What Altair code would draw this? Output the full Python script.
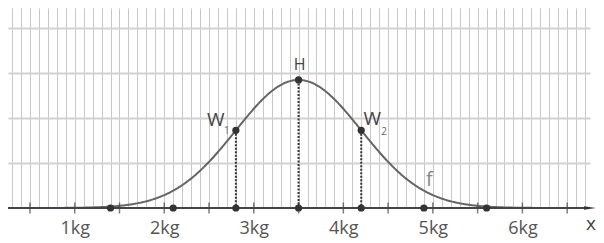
import altair as alt
import pandas as pd

# Normal distribution parameters
MU = 3.5
SIGMA = 0.7

# Scale extents (kg on x, density on y)
X_MIN, X_MAX = 0.255, 6.755
Y_MAX = 0.89

# Grid / tick positions
grid_x = [round(0.3 + 0.1 * i, 1) for i in range(65)]     # 0.3 ... 6.7
grid_y = [0.2, 0.4, 0.6, 0.8]
tick_x = [0.5, 1.0, 1.5, 2.0, 2.5, 3.0, 3.5, 4.0, 4.5, 5.0, 5.5, 6.0, 6.5]

# Marked points
axis_points = [1.4, 2.1, 2.8, 3.5, 4.2, 4.9, 5.6]
curve_points = [2.8, 3.5, 4.2]

# Axis line / arrow
axis_line = {"x": [X_MIN], "x2": [6.73]}
arrow_x = [6.755]
xlabel_x = [6.765]
f_label_x = [4.96]

FONT = "Open Sans"
dens = f"densityNormal(datum.x, {MU}, {SIGMA})"

xscale = alt.Scale(domain=[X_MIN, X_MAX], nice=False, zero=False)
yscale = alt.Scale(domain=[0, Y_MAX], nice=False, zero=True)

xaxis = alt.Axis(
    values=grid_x, grid=True, gridColor="#c9c9c9", gridWidth=1,
    ticks=False, domain=False, title=None,
    labelExpr="abs(datum.value - round(datum.value)) < 0.001 ? format(datum.value, 'd') + 'kg' : ''",
    labelFont=FONT, labelFontSize=18, labelColor="#555555",
    labelOverlap=False, labelFlush=False, labelPadding=11,
)
yaxis = alt.Axis(
    values=grid_y, grid=True, gridColor="#d2d2d2", gridWidth=2,
    ticks=False, domain=False, labels=False, title=None,
)

X = alt.X("x:Q", scale=xscale, axis=xaxis)
Y = alt.Y("y:Q", scale=yscale, axis=yaxis)
Y0 = alt.Y("y0:Q", scale=yscale, axis=yaxis)

curve = alt.Chart(alt.sequence(X_MIN, X_MAX + 0.001, 0.01, as_="x")).transform_calculate(
    y=dens
).mark_line(color="#666666", strokeWidth=2).encode(x=X, y=Y)

axis_rule = alt.Chart(pd.DataFrame(axis_line)).transform_calculate(y0="0").mark_rule(
    color="#444444", strokeWidth=2, clip=False
).encode(x=X, x2="x2:Q", y=Y0)

arrow = alt.Chart(pd.DataFrame({"x": arrow_x})).transform_calculate(y0="0").mark_point(
    shape="M-1,-0.3L1,0L-1,0.3Z", size=144, filled=True, color="#333333", opacity=1, clip=False
).encode(x=X, y=Y0)

x_label = alt.Chart(pd.DataFrame({"x": xlabel_x})).transform_calculate(y0="0").mark_text(
    text="x", font=FONT, fontSize=19, color="#444444", dy=16, clip=False
).encode(x=X, y=Y0)

ticks = alt.Chart(pd.DataFrame({"x": tick_x})).transform_calculate(y0="0").mark_tick(
    orient="vertical", size=11, thickness=1.5, color="#444444"
).encode(x=X, y=Y0)

cp = pd.DataFrame({"x": curve_points})
drop = alt.Chart(cp).transform_calculate(y=dens, y0="0").mark_rule(
    color="#333333", strokeWidth=2, strokeDash=[2, 1.5]
).encode(x=X, y=Y, y2="y0:Q")

curve_dots = alt.Chart(cp).transform_calculate(y=dens).mark_circle(
    size=52, color="#333333", opacity=1
).encode(x=X, y=Y)

axis_dots = alt.Chart(pd.DataFrame({"x": axis_points})).transform_calculate(y0="0").mark_circle(
    size=52, color="#333333", opacity=1
).encode(x=X, y=Y0)


def label(xv, txt, size, color, dx, dy):
    return alt.Chart(pd.DataFrame({"x": [xv]})).transform_calculate(y=dens).mark_text(
        text=txt, font=FONT, fontSize=size, color=color, dx=dx, dy=dy
    ).encode(x=X, y=Y)


lab_H = label(curve_points[1], "H", 16, "#444444", 1, -15)
lab_W1 = label(curve_points[0], "W", 19, "#444444", -20, -10)
lab_W1s = label(curve_points[0], "1", 10, "#666666", -9, 1)
lab_W2 = label(curve_points[2], "W", 19, "#444444", 11, -11)
lab_W2s = label(curve_points[2], "2", 10, "#666666", 23, 2)
lab_f = label(f_label_x[0], "f", 20, "#888888", 0, -13)

chart = alt.layer(
    curve, axis_rule, ticks, drop, curve_dots, axis_dots,
    lab_H, lab_W1, lab_W1s, lab_W2, lab_W2s, lab_f, arrow, x_label,
).properties(
    width=582, height=200,
    padding={"left": 0, "top": 0, "right": 6, "bottom": 31},
    autosize=alt.AutoSizeParams(type="none"),
).configure_view(stroke=None)

chart.save("out.html", embed_options={"renderer": "svg", "actions": False})
